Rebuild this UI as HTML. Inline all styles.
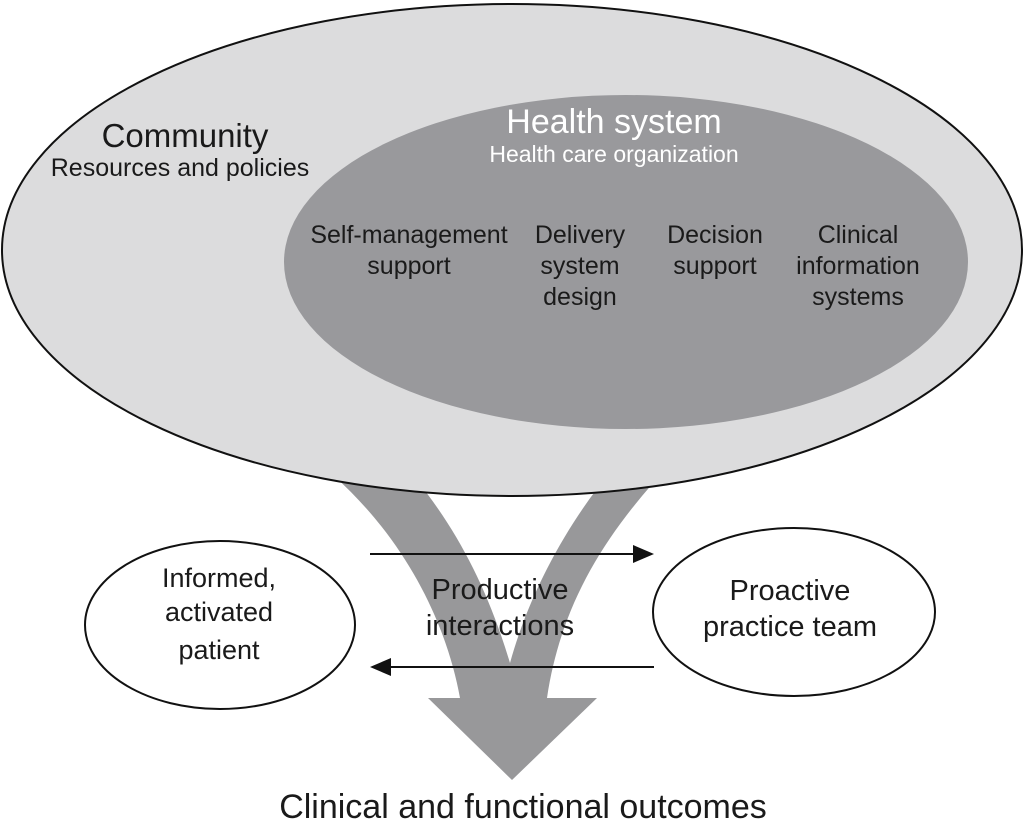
<!DOCTYPE html>
<html><head><style>body{margin:0;background:#fff}svg{display:block}text{font-family:"Liberation Sans",Arial,sans-serif;fill:#1a1a1a}</style></head><body>
<svg width="1024" height="828" viewBox="0 0 1024 828">
<path d="M295,445 C395,515 445,615 460,698 L428,698 L512,780 L597,698 L547,698 C560,610 600,540 665,470 L612,470 C570,520 530,590 510,663 C485,580 450,515 395,455 Z" fill="#98989a"/>
<ellipse cx="512" cy="250" rx="510" ry="246" fill="#dcdcdd" stroke="#111" stroke-width="2"/>
<ellipse cx="626" cy="262" rx="342" ry="167" fill="#99999c"/>
<text x="185" y="147" font-size="33" text-anchor="middle">Community</text>
<text x="180" y="176" font-size="25" text-anchor="middle">Resources and policies</text>
<text x="614" y="133" font-size="34" text-anchor="middle" style="fill:#fff">Health system</text>
<text x="614" y="162" font-size="23" text-anchor="middle" style="fill:#fff">Health care organization</text>
<g font-size="25" text-anchor="middle">
<text x="409" y="243">Self-management</text><text x="409" y="274">support</text>
<text x="580" y="243">Delivery</text><text x="580" y="274">system</text><text x="580" y="305">design</text>
<text x="715" y="243">Decision</text><text x="715" y="274">support</text>
<text x="858" y="243">Clinical</text><text x="858" y="274">information</text><text x="858" y="305">systems</text>
</g>
<ellipse cx="220" cy="625" rx="135" ry="84" fill="#fff" stroke="#111" stroke-width="2"/>
<ellipse cx="794" cy="612" rx="141" ry="84" fill="#fff" stroke="#111" stroke-width="2"/>
<g text-anchor="middle">
<text x="219" y="587" font-size="27">Informed,</text><text x="219" y="621" font-size="27">activated</text><text x="219" y="659" font-size="27">patient</text>
<text x="790" y="600" font-size="29">Proactive</text><text x="790" y="636" font-size="29">practice team</text>
<text x="500" y="599" font-size="29">Productive</text><text x="500" y="635" font-size="29">interactions</text>
<text x="523" y="818" font-size="34">Clinical and functional outcomes</text>
</g>
<line x1="370" y1="554" x2="635" y2="554" stroke="#111" stroke-width="2"/>
<polygon points="654,554 633,545 633,563" fill="#111"/>
<line x1="390" y1="667" x2="654" y2="667" stroke="#111" stroke-width="2"/>
<polygon points="370,667 391,658 391,676" fill="#111"/>
</svg>
</body></html>
